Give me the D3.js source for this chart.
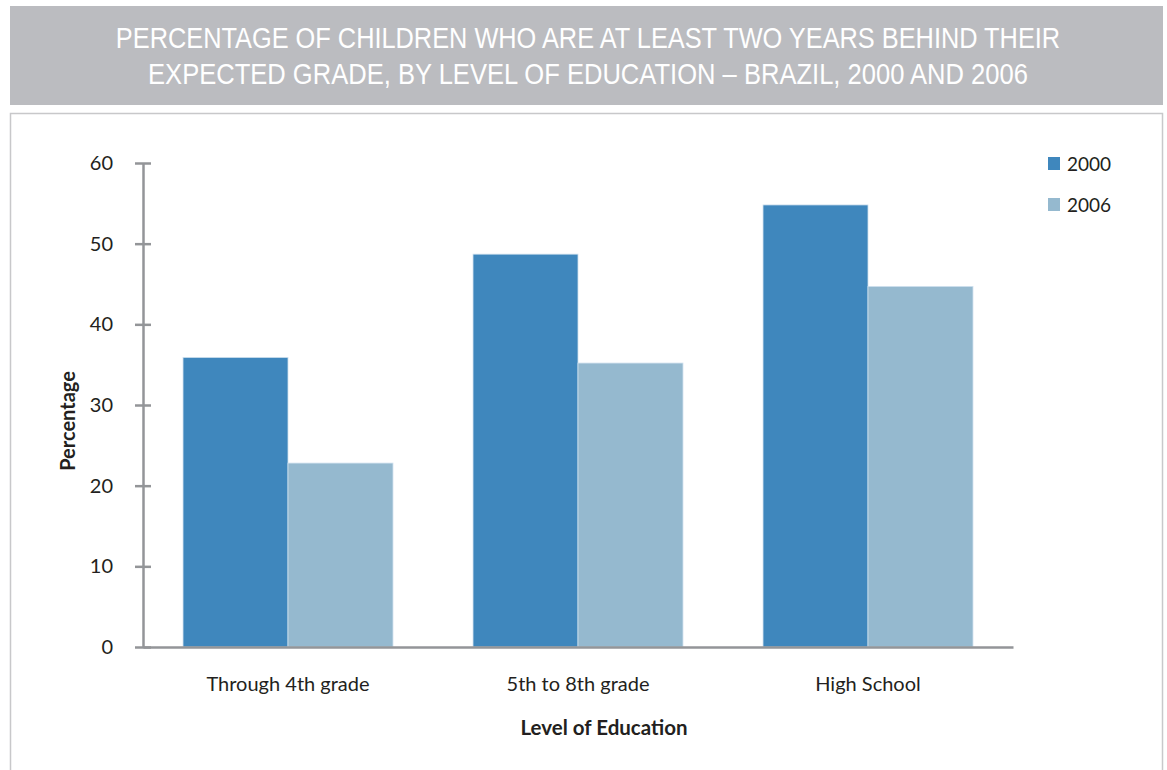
<!DOCTYPE html>
<html><head><meta charset="utf-8">
<script src="https://cdn.jsdelivr.net/npm/d3@7"></script>
<style>body{margin:0;background:#fff;} svg{display:block;}</style>
</head><body>
<svg id="c" width="1167" height="770"></svg>
<script>
const categories = ["Through 4th grade", "5th to 8th grade", "High School"];
const seriesNames = ["2000", "2006"];
const values2000 = [35.9, 48.7, 54.8];
const values2006 = [22.8, 35.2, 44.7];
const yTicks = [0, 10, 20, 30, 40, 50, 60];
const titleLines = ["PERCENTAGE OF CHILDREN WHO ARE AT LEAST TWO YEARS BEHIND THEIR",
                    "EXPECTED GRADE, BY LEVEL OF EDUCATION \u2013 BRAZIL, 2000 AND 2006"];
const colors = ["#3f87bd", "#95b9cf"];

const svg = d3.select("#c");
const font = "Lato, 'Open Sans', sans-serif";

// Title banner
svg.append("rect").attr("x", 10).attr("y", 6).attr("width", 1153).attr("height", 99).attr("fill", "#bbbcc0");
const tlen = [945, 880];
titleLines.forEach((t, i) => {
  const g = svg.append("g").attr("transform", `translate(588,${48 + i * 36})`);
  const txt = g.append("text").attr("x", 0).attr("y", 0)
    .attr("text-anchor", "middle").attr("fill", "#fff")
    .attr("font-family", "'Liberation Sans', Arial, sans-serif")
    .attr("font-size", 25)
    .text(t);
  const w = txt.node().getComputedTextLength();
  txt.attr("transform", `scale(${tlen[i] / w},1.16)`);
});

// chart frame
svg.append("rect").attr("x", 10.5).attr("y", 113.5).attr("width", 1152).attr("height", 700)
  .attr("fill", "none").attr("stroke", "#c8c8ca").attr("stroke-width", 1.5);

const x0 = d3.scaleBand().domain(categories).range([143, 1013]).paddingInner(0.276).paddingOuter(0.138);
const x1 = d3.scaleBand().domain(seriesNames).range([0, x0.bandwidth()]);
const y = d3.scaleLinear().domain([0, 60]).range([647, 163]);

const data = categories.map((c, i) => ({cat: c, vals: [values2000[i], values2006[i]]}));

// bars
const g = svg.append("g");
data.forEach(d => {
  d.vals.forEach((v, j) => {
    g.append("rect")
      .attr("x", x0(d.cat) + x1(seriesNames[j]))
      .attr("y", y(v))
      .attr("width", x1.bandwidth())
      .attr("height", y(0) - y(v))
      .attr("fill", colors[j])
      .attr("stroke", "#cfe0ee").attr("stroke-width", 0.8);
  });
});

// y axis
const axisColor = "#939598";
const yAxis = svg.append("g").attr("transform", "translate(143,0)")
  .call(d3.axisLeft(y).tickValues(yTicks).tickSizeInner(8).tickSizeOuter(0).tickPadding(14));
yAxis.select(".domain").attr("stroke", axisColor).attr("stroke-width", 2.5);
yAxis.selectAll(".tick line").attr("stroke", axisColor).attr("stroke-width", 2.5).attr("x1", 8).attr("x2", -8);
yAxis.selectAll(".tick text").attr("font-family", font).attr("font-size", 20).attr("fill", "#231f20").attr("dx", "-8");

// x axis line
const xAxis = svg.append("g").attr("transform", "translate(0,647)")
  .call(d3.axisBottom(x0).tickSize(0).tickPadding(30));
xAxis.select(".domain").attr("stroke", axisColor).attr("stroke-width", 2.5);
xAxis.selectAll(".tick text").attr("font-family", font).attr("font-size", 20).attr("fill", "#231f20");

// axis titles
svg.append("text").attr("transform", "translate(75,421) rotate(-90)")
  .attr("text-anchor", "middle").attr("font-family", font).attr("font-weight", "bold")
  .attr("font-size", 20).attr("fill", "#231f20").text("Percentage");
svg.append("text").attr("x", 604).attr("y", 735)
  .attr("text-anchor", "middle").attr("font-family", font).attr("font-weight", "bold")
  .attr("font-size", 20.5).attr("fill", "#231f20").text("Level of Education");

// legend
seriesNames.forEach((s, i) => {
  const ly = 164 + i * 41;
  svg.append("rect").attr("x", 1048).attr("y", ly - 7).attr("width", 12).attr("height", 13).attr("fill", colors[i]);
  svg.append("text").attr("x", 1067).attr("y", ly + 7).attr("font-family", font)
    .attr("font-size", 19).attr("fill", "#231f20").text(s);
});
</script>
</body></html>
